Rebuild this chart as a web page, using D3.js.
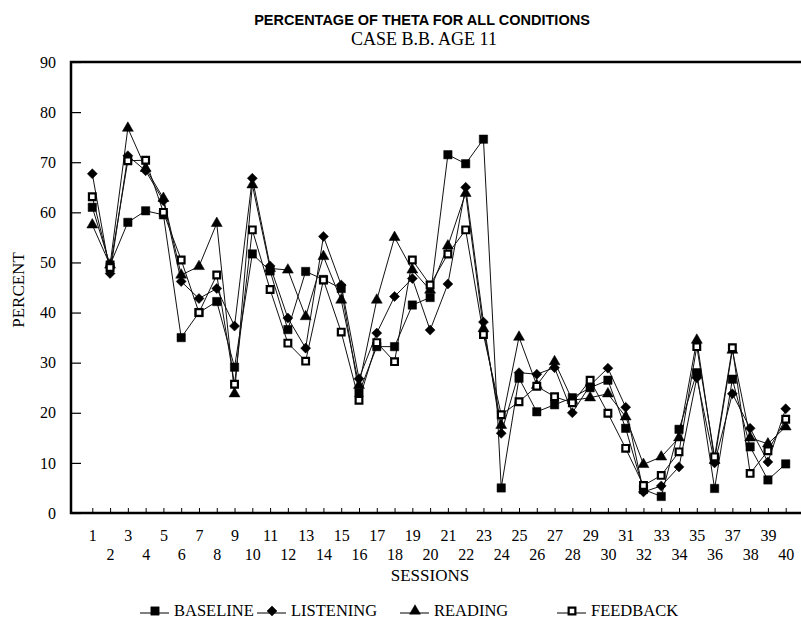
<!DOCTYPE html>
<html>
<head>
<meta charset="utf-8">
<script src="https://cdn.jsdelivr.net/npm/d3@7"></script>
<style>
  body { margin: 0; background: #fff; }
  svg { display: block; }
  text { fill: #000; }
</style>
</head>
<body>
<div id="container"></div>
<script>
/* DATA */
const sessions = [1, 2, 3, 4, 5, 6, 7, 8, 9, 10, 11, 12, 13, 14, 15, 16, 17, 18, 19, 20,
  21, 22, 23, 24, 25, 26, 27, 28, 29, 30, 31, 32, 33, 34, 35, 36, 37, 38, 39, 40]
const yTicks = [0, 10, 20, 30, 40, 50, 60, 70, 80, 90]

const baseline = [61, 49.5, 58, 60.3, 59.5, 35, 40, 42.2, 29.1, 51.7,
  48.3, 36.6, 48.2, 46.6, 44.8, 24, 33.2, 33.2, 41.5, 43,
  71.5, 69.7, 74.6, 5, 26.9, 20.2, 21.6, 23, 25, 26.5,
  16.9, 4.7, 3.3, 16.7, 28, 4.9, 26.7, 13.2, 6.6, 9.8]
const listening = [67.7, 47.8, 71.3, 68.3, 62.3, 46.2, 42.8, 44.8, 37.3, 66.8,
  49.3, 38.9, 32.9, 55.2, 45.5, 26.8, 35.9, 43.2, 46.8, 36.5,
  45.7, 65, 38.1, 15.9, 28, 27.7, 29, 20, 25.5, 28.9,
  21.1, 4.2, 5.4, 9.2, 27, 10, 23.8, 16.9, 10.2, 20.8]
const reading = [57.5, 49.5, 76.8, 68.8, 62.8, 47.5, 49.2, 57.8, 23.8, 65.5,
  48.8, 48.5, 39.2, 51.2, 42.5, 25.5, 42.5, 55, 48.5, 44.5,
  53.3, 63.8, 36.8, 17.5, 35.1, 25.5, 30.2, 22.5, 23, 23.8,
  19.2, 9.7, 11.2, 15, 34.5, 10.5, 32.5, 15, 13.8, 17.2]
const feedback = [63.1, 49, 70.3, 70.4, 60, 50.5, 40, 47.5, 25.7, 56.5,
  44.6, 33.9, 30.3, 46.5, 36.1, 22.5, 34, 30.2, 50.5, 45.5,
  51.7, 56.5, 35.6, 19.6, 22.2, 25.3, 23.2, 22, 26.5, 19.9,
  12.9, 5.5, 7.5, 12.2, 33.2, 11.2, 33, 7.9, 12.4, 18.7]

const seriesNames = ["BASELINE", "LISTENING", "READING", "FEEDBACK"]

/* CONSTANTS */
const width = 801, height = 624
const serif = "'Liberation Serif', 'Times New Roman', serif"
const sans = "'Liberation Sans', Arial, sans-serif"

const series = [
  { name: seriesNames[0], values: baseline, type: d3.symbolSquare, size: 70, fill: "#000" },
  { name: seriesNames[1], values: listening, type: d3.symbolDiamond2, size: 64, fill: "#000" },
  { name: seriesNames[2], values: reading, type: d3.symbolTriangle, size: 52, fill: "#000" },
  { name: seriesNames[3], values: feedback, type: d3.symbolSquare, size: 45, fill: "#fff" }
]

// SCALES
const xScale = d3.scaleLinear()
  .domain([1, 40])
  .range([92.3, 785.7])

const yScale = d3.scaleLinear()
  .domain([0, 90])
  .range([513, 62])

// SVG
const svg = d3.select("#container")
  .append("svg")
  .attr("width", width)
  .attr("height", height)

// TITLE
svg.append("text")
  .attr("x", 422).attr("y", 25)
  .attr("text-anchor", "middle")
  .attr("font-family", sans)
  .attr("font-weight", "bold")
  .attr("font-size", 14.5)
  .text("PERCENTAGE OF THETA FOR ALL CONDITIONS")

svg.append("text")
  .attr("x", 424).attr("y", 45)
  .attr("text-anchor", "middle")
  .attr("font-family", serif)
  .attr("font-size", 18)
  .text("CASE B.B. AGE 11")

// LINES + MARKERS
const lineGen = d3.line()
  .x((d, i) => xScale(sessions[i]))
  .y(d => yScale(d))

series.forEach(s => {
  svg.append("path")
    .attr("fill", "none")
    .attr("stroke", "#111")
    .attr("stroke-width", 1)
    .attr("d", lineGen(s.values))
})

series.forEach(s => {
  const sym = d3.symbol().type(s.type).size(s.size)
  svg.selectAll(null)
    .data(s.values)
    .join("path")
    .attr("transform", (d, i) => `translate(${xScale(sessions[i])},${yScale(d)})`)
    .attr("d", sym())
    .attr("fill", s.fill)
    .attr("stroke", "#000")
    .attr("stroke-width", s.fill === "#fff" ? 2.2 : 0.5)
})

// AXES
const xAxis = d3.axisBottom(xScale)
  .tickValues(sessions)
  .tickSizeInner(-5)
  .tickSizeOuter(0)
  .tickFormat(d => d)

const gx = svg.append("g")
  .attr("transform", `translate(0, ${yScale(0)})`)
  .call(xAxis)
gx.select(".domain").remove()
gx.selectAll("line").attr("stroke", "#000").attr("stroke-width", 1)
gx.selectAll("text")
  .attr("dy", null)
  .attr("y", d => d % 2 ? 28 : 47)
  .attr("font-family", serif)
  .attr("font-size", 16)
  .attr("fill", "#000")

const yAxis = d3.axisLeft(yScale)
  .tickValues(yTicks)
  .tickSizeInner(-10)
  .tickSizeOuter(0)
  .tickPadding(15)

const gy = svg.append("g")
  .attr("transform", "translate(71, 0)")
  .call(yAxis)
gy.select(".domain").remove()
gy.selectAll("line").attr("stroke", "#000").attr("stroke-width", 1.2)
gy.selectAll("text")
  .attr("font-family", serif)
  .attr("font-size", 16)
  .attr("fill", "#000")

// frame: left, bottom, top (no right edge visible)
svg.append("path")
  .attr("fill", "none")
  .attr("stroke", "#000")
  .attr("stroke-width", 2.5)
  .attr("d", `M${width},${yScale(90)} H71 V${yScale(0)} H${width}`)

// AXIS TITLES
svg.append("text")
  .attr("transform", "rotate(-90)")
  .attr("x", -290).attr("y", 24)
  .attr("text-anchor", "middle")
  .attr("font-family", serif)
  .attr("font-size", 17)
  .text("PERCENT")

svg.append("text")
  .attr("x", 430).attr("y", 581)
  .attr("text-anchor", "middle")
  .attr("font-family", serif)
  .attr("font-size", 17)
  .text("SESSIONS")

// LEGEND
const legendX = [155, 272, 415, 572]
const legend = svg.append("g")
series.forEach((s, i) => {
  const g = legend.append("g").attr("transform", `translate(${legendX[i]}, 613)`)
  g.append("line")
    .attr("x1", -15).attr("x2", 14)
    .attr("stroke", "#000").attr("stroke-width", 1)
  g.append("path")
    .attr("transform", "translate(0,-2)")
    .attr("d", d3.symbol().type(s.type).size(s.size)())
    .attr("fill", s.fill)
    .attr("stroke", "#000")
    .attr("stroke-width", s.fill === "#fff" ? 2.2 : 0.5)
  g.append("text")
    .attr("x", 19).attr("y", 3)
    .attr("font-family", serif)
    .attr("font-size", 16.5)
    .text(s.name)
})
</script>
</body>
</html>
